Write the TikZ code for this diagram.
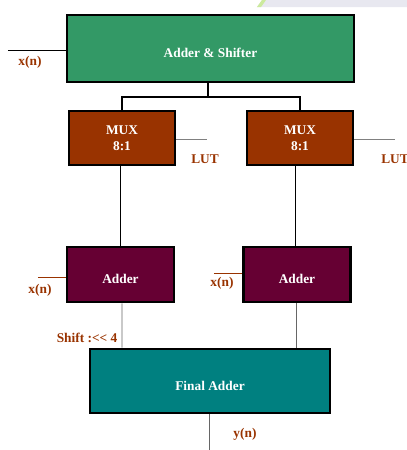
\documentclass[tikz,border=0pt]{standalone}
\usepackage{fontspec}
\setmainfont{Liberation Serif}
\usetikzlibrary{calc}

\definecolor{shiftgreen}{HTML}{339966}
\definecolor{muxbrown}{HTML}{993300}
\definecolor{addmaroon}{HTML}{660033}
\definecolor{finalteal}{HTML}{008080}
\definecolor{labelbrown}{HTML}{993300}

\begin{document}
\begin{tikzpicture}[x=0.025cm,y=-0.025cm]
  \tikzstyle{block}=[draw=black,line width=2pt,text=white,align=center,
    font=\bfseries\fontsize{9.5}{11}\selectfont,inner sep=2pt]
  \tikzstyle{low}=[text height=0.53cm,text depth=0.08cm]
  \tikzstyle{sig}=[text=labelbrown,font=\bfseries\fontsize{9.5}{11}\selectfont,inner sep=0pt]
  \tikzstyle{wire}=[line width=0.6pt]
  \useasboundingbox (0,0) rectangle (407,450);

  % faint background shape, top right
  \fill[blue!20!gray!15] (262,0) -- (407,0) -- (407,7) -- (257,7) -- cycle;
  \fill[yellow!50!green!40] (262,0) -- (266,0) -- (261,7) -- (257,7) -- cycle;

  \node[block,low,fill=shiftgreen,minimum width=7.175cm,minimum height=1.675cm] (shifter) at (210.5,48.5) {Adder \& Shifter};
  \coordinate (xin) at (8,50);
  \node[sig] (xlbl) at (30,62) {x(n)};

  \node[block,fill=muxbrown,minimum width=2.65cm,minimum height=1.35cm] (mux1) at (122,138) {MUX\\8:1};
  \node[block,fill=muxbrown,minimum width=2.65cm,minimum height=1.35cm] (mux2) at (300,138) {MUX\\8:1};
  \coordinate (lut1in) at (207,139);
  \coordinate (lut2in) at (395,139);
  \node[sig] (lut1) at (205,159) {LUT};
  \node[sig] (lut2) at (395,159) {LUT};

  \node[block,low,fill=addmaroon,minimum width=2.675cm,minimum height=1.375cm] (add1) at (120.5,274.5) {Adder};
  \node[block,low,fill=addmaroon,minimum width=2.675cm,minimum height=1.375cm] (add2) at (297,274.5) {Adder};
  \coordinate (x1in) at (38,277);
  \coordinate (x2in) at (214,273);
  \node[sig] (x1lbl) at (40,290) {x(n)};
  \node[sig] (x2lbl) at (222,283) {x(n)};

  \node[block,low,fill=finalteal,minimum width=6cm,minimum height=1.6cm] (final) at (210,381) {Final Adder};
  \node[sig] (shift) at (87,338) {Shift :{<}{<} 4};
  \coordinate (yout) at (209,450);
  \node[sig] (ylbl) at (245,434) {y(n)};

  \coordinate (split) at (208,97);
  \draw[line width=1.4pt] (shifter.south -| split) -- (split);
  \draw[line width=1.4pt] (mux1.north) |- (split) -| (mux2.north);

  \draw[wire] (xin) -- (xin -| shifter.west);
  \draw[wire,gray] (lut1in -| mux1.east) -- (lut1in);
  \draw[wire,gray] (lut2in -| mux2.east) -- (lut2in);
  \draw[wire] ($(mux1.south)+(-2,0)$) -- ($(add1.north)+(-0.5,0)$);
  \draw[wire] ($(mux2.south)+(-5,0)$) -- ($(add2.north)+(-2,0)$);
  \draw[wire,labelbrown] (x1in) -- (x1in -| add1.west);
  \draw[wire,labelbrown] (x2in) -- (x2in -| add2.west);
  \draw[wire,gray!80!black] ($(add1.south)+(1.5,0)$) -- ($(final.north)+(-88,0)$);
  \draw[wire,gray!80!black] ($(add2.south)+(-1,0)$) -- ($(final.north)+(86,0)$);
  \draw[wire,gray!80!black] (final.south -| yout) -- (yout);
\end{tikzpicture}
\end{document}
